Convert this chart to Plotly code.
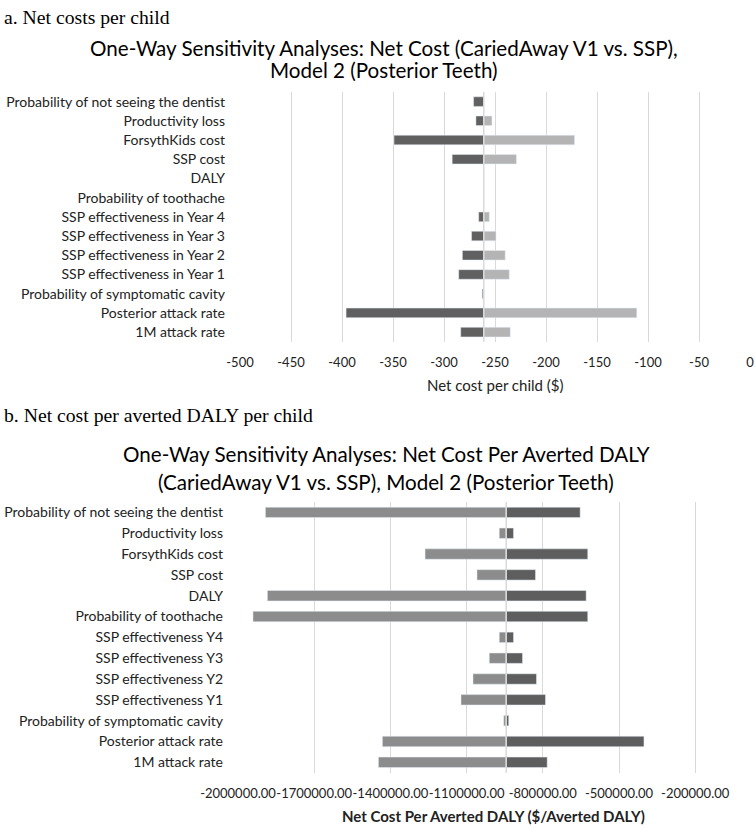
import plotly.graph_objects as go

W, H = 756, 827

# categories, top to bottom
categories_a = ["Probability of not seeing the dentist", "Productivity loss", "ForsythKids cost",
                "SSP cost", "DALY", "Probability of toothache", "SSP effectiveness in Year 4",
                "SSP effectiveness in Year 3", "SSP effectiveness in Year 2", "SSP effectiveness in Year 1",
                "Probability of symptomatic cavity", "Posterior attack rate", "1M attack rate"]
categories_b = ["Probability of not seeing the dentist", "Productivity loss", "ForsythKids cost",
                "SSP cost", "DALY", "Probability of toothache", "SSP effectiveness Y4",
                "SSP effectiveness Y3", "SSP effectiveness Y2", "SSP effectiveness Y1",
                "Probability of symptomatic cavity", "Posterior attack rate", "1M attack rate"]

# a. net cost per child ($)
cost_base = -261
cost_low = [-271, -268.7, -349, -292, None, None, -266, -273, -282, -285.6, -262.5, -396, -283.6]
cost_high = [None, -253, -172, -229, None, None, -255.6, -249, -240, -236, None, -111, -235]

# b. net cost per averted DALY
daly_base = -944000
daly_low = [-1892000, -971400, -1263500, -1059100, -1884300, -1941000, -971400,
            -1010700, -1074800, -1122000, -953800, -1431500, -1447200]
daly_high = [-652900, -915300, -623000, -828700, -629300, -623000, -915300,
             -879900, -824800, -789400, -934100, -401700, -782700]

cost_ticks = [-500, -450, -400, -350, -300, -250, -200, -150, -100, -50, 0]
cost_ticktext = ["-500", "-450", "-400", "-350", "-300", "-250", "-200", "-150", "-100", "-50", "0"]
daly_ticks = [-2000000, -1700000, -1400000, -1100000, -800000, -500000, -200000]
daly_ticktext = ["-2000000.00", "-1700000.00", "-1400000.00", "-1100000.00",
                 "-800000.00", "-500000.00", "-200000.00"]


def rel(vals, base):
    return [None if v is None else v - base for v in vals]


def py(px):
    return 1 - px / H


def pxx(px):
    return px / W


FONT = "Lato"
fig = go.Figure()

fig.add_trace(go.Bar(y=categories_a, x=rel(cost_low, cost_base), base=cost_base, orientation="h",
                     marker_color="#606060", xaxis="x", yaxis="y", showlegend=False))
fig.add_trace(go.Bar(y=categories_a, x=rel(cost_high, cost_base), base=cost_base, orientation="h",
                     marker_color="#b4b4b4", xaxis="x", yaxis="y", showlegend=False))
fig.add_trace(go.Bar(y=categories_b, x=rel(daly_low, daly_base), base=daly_base, orientation="h",
                     marker_color="#8c8c8c", xaxis="x2", yaxis="y2", showlegend=False))
fig.add_trace(go.Bar(y=categories_b, x=rel(daly_high, daly_base), base=daly_base, orientation="h",
                     marker_color="#5e5e5e", xaxis="x2", yaxis="y2", showlegend=False))

axis_common = dict(showgrid=True, gridcolor="#d9d9d9", gridwidth=1, zeroline=False, automargin=False,
                   showline=False, ticks="", tickfont=dict(family=FONT, size=13, color="#222"))
cat_common = dict(type="category", autorange="reversed", showgrid=False, zeroline=False,
                  showline=False, ticks="", ticklabelstandoff=14, automargin=False,
                  tickfont=dict(family=FONT, size=14, color="#222"))

fig.update_layout(
    width=W, height=H, margin=dict(l=0, r=0, t=0, b=0), autosize=False,
    paper_bgcolor="white", plot_bgcolor="white",
    barmode="overlay", bargap=0.5,
    xaxis=dict(domain=[pxx(240), pxx(750)], range=[-500, 0], anchor="y",
               tickvals=cost_ticks, ticktext=cost_ticktext, tickangle=0, ticklabelstandoff=11,
               **axis_common),
    yaxis=dict(domain=[py(341.7), py(92)], anchor="x", **cat_common),
    xaxis2=dict(domain=[pxx(238), pxx(746)], range=[-2000000, 0], anchor="y2",
                tickvals=daly_ticks, ticktext=daly_ticktext, tickangle=0, ticklabelstandoff=11,
                **axis_common),
    yaxis2=dict(domain=[py(772.7), py(502)], anchor="x2", **cat_common),
)

# base-case lines
fig.add_shape(type="line", xref="x", yref="y domain", x0=cost_base, x1=cost_base, y0=0, y1=1,
              line=dict(color="#d9d9d9", width=1.5), layer="above")
fig.add_shape(type="line", xref="x2", yref="y2 domain", x0=daly_base, x1=daly_base, y0=0, y1=1,
              line=dict(color="#d9d9d9", width=1.5), layer="above")

serif = dict(family="Liberation Serif", size=19.7, color="black")
title_font = dict(family=FONT, size=20.6, color="black")
axis_title_font = dict(family=FONT, size=15, color="#222")
notes = [
    ("a. Net costs per child", 2, 17.5, serif, "left"),
    ("One-Way Sensitivity Analyses: Net Cost (CariedAway V1 vs. SSP),", 384, 48, title_font, "center"),
    ("Model 2 (Posterior Teeth)", 384, 69.5, title_font, "center"),
    ("Net cost per child ($)", 495, 385, axis_title_font, "center"),
    ("b. Net cost per averted DALY per child", 2, 415, serif, "left"),
    ("One-Way Sensitivity Analyses: Net Cost Per Averted DALY", 386, 454, title_font, "center"),
    ("(CariedAway V1 vs. SSP), Model 2 (Posterior Teeth)", 386, 481.7, title_font, "center"),
    ("<b>Net Cost Per Averted DALY ($/Averted DALY)</b>", 493, 816, axis_title_font, "center"),
]
for text, x, y, font, anchor in notes:
    fig.add_annotation(text=text, x=pxx(x), y=py(y), xref="paper", yref="paper",
                       xanchor=anchor, yanchor="middle", showarrow=False, font=font)

fig.write_html("out.html", config={"displayModeBar": False},
               post_script="document.body.style.margin='0';")
